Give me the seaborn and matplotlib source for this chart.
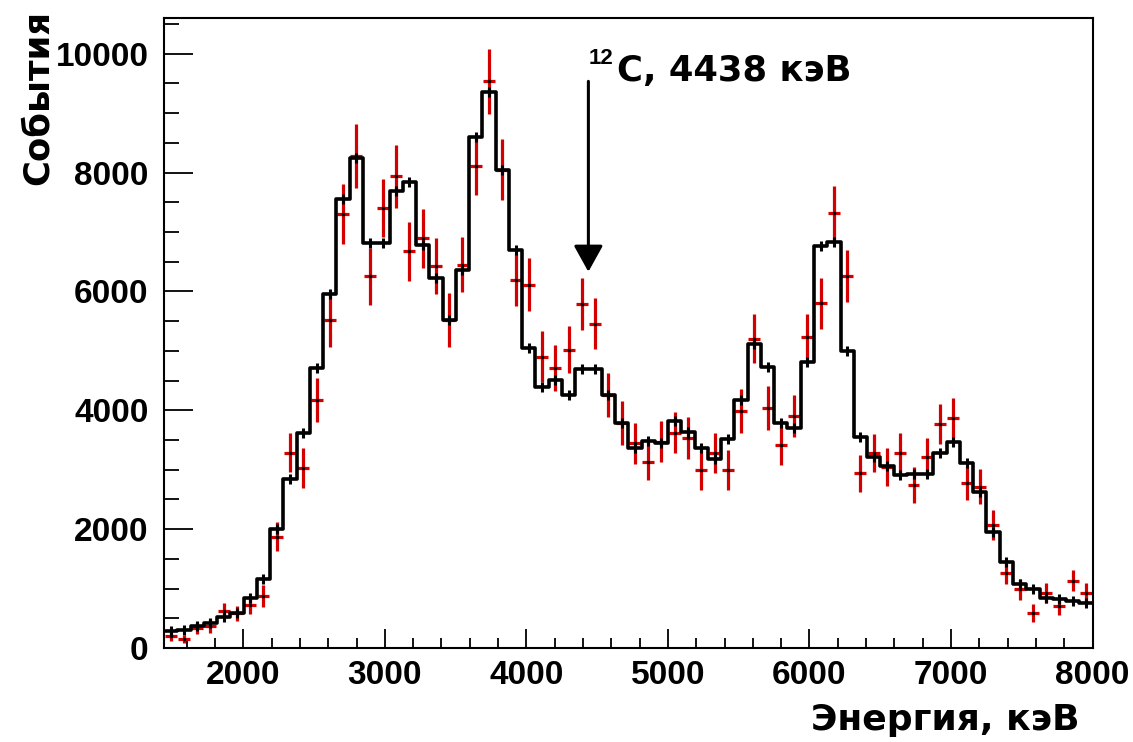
import numpy as np
import pandas as pd
import matplotlib
matplotlib.use("Agg")
import matplotlib.pyplot as plt
import seaborn as sns

# ---- data ----
E_MIN, E_MAX, N_BINS = 1440.0, 8000.0, 70

hist_counts = [290, 310, 370, 415, 517, 584, 836, 1156, 2003, 2845,
               3614, 4709, 5960, 7559, 8244, 6813, 6813, 7682, 7834, 6785,
               6224, 5522, 6352, 8597, 9349, 8036, 6700, 5045, 4399, 4512,
               4259, 4692, 4692, 4259, 3793, 3362, 3490, 3457, 3827, 3642,
               3362, 3177, 3513, 4175, 5118, 4725, 3793, 3698, 4820, 6768,
               6823, 5005, 3557, 3221, 3064, 2912, 2929, 2929, 3288, 3474,
               3109, 2632, 1958, 1453, 1077, 988, 837, 830, 796, 752]

data_counts = [202, 146, 331, 370, 629, 584, 724, 875, 1874, 3288,
               3035, 4170, 5522, 7306, 8283, 6251, 7402, 7935, 6672, 6897,
               6431, 5522, 6448, 8103, 9534, 8047, 6195, 6111, 4904, 4709,
               5017, 5791, 5455, 4259, 3783, 3446, 3137, 3474, 3625, 3530,
               2997, 3278, 2997, 3987, 5205, 4035, 3418, 3906, 5241, 5803,
               7318, 6263, 2941, 3278, 3042, 3288, 2744, 3210, 3771, 3867,
               2773, 2716, 2071, 1268, 988, 584, 921, 707, 1133, 931]

data_errors = [80, 70, 100, 110, 130, 130, 150, 180, 245, 330,
               335, 365, 450, 505, 535, 475, 490, 525, 490, 495,
               470, 450, 465, 477, 547, 513, 435, 449, 435, 393,
               398, 435, 429, 365, 365, 342, 314, 351, 351, 354,
               337, 337, 331, 365, 407, 365, 337, 356, 379, 429,
               463, 435, 309, 323, 315, 337, 297, 323, 342, 345,
               286, 300, 253, 188, 180, 149, 170, 150, 177, 170]

x_ticks = [2000, 3000, 4000, 5000, 6000, 7000, 8000]
y_ticks = [0, 2000, 4000, 6000, 8000, 10000]

line_energy = 4438
x_label = "Энергия, кэВ"
y_label = "События"

# ---- plot ----
sns.set_theme(style="ticks")
plt.rcParams['font.family'] = ['Liberation Sans', 'DejaVu Sans']
plt.rcParams['font.weight'] = 'bold'
for key in ['text.color', 'axes.labelcolor', 'xtick.color', 'ytick.color',
            'xtick.labelcolor', 'ytick.labelcolor', 'axes.edgecolor']:
    plt.rcParams[key] = 'black'

edges = np.linspace(E_MIN, E_MAX, N_BINS + 1)
centers = 0.5 * (edges[:-1] + edges[1:])
bw = edges[1] - edges[0]

df = pd.DataFrame({"energy": centers, "counts": hist_counts})

fig = plt.figure(figsize=(11.33, 7.42), dpi=100)
ax = fig.add_axes([164 / 1133, 1 - 648 / 742, (1092.6 - 164) / 1133, (648 - 18) / 742])

red = "#D40000"
ax.errorbar(centers, data_counts, yerr=data_errors, xerr=bw * 0.45,
            fmt='none', ecolor=red, elinewidth=2.3, capsize=0, zorder=2)

sns.histplot(data=df, x="energy", weights="counts", bins=N_BINS,
             binrange=(E_MIN, E_MAX), element="step",
             fill=False, color="black", linewidth=2.6, ax=ax)
ax.plot(centers, hist_counts, linestyle='none', marker='|', markersize=7,
        markeredgewidth=2.2, color='black', zorder=4)
ax.plot(centers, data_counts, linestyle='none', marker='o', markersize=1.5,
        color='black', zorder=4)

ax.set_xlim(E_MIN, E_MAX)
ax.set_ylim(0, 10600)

ax.set_xticks(x_ticks)
ax.set_xticklabels([str(v) for v in x_ticks])
ax.set_yticks(y_ticks)
ax.set_yticklabels([str(v) for v in y_ticks])
ax.set_xticks(np.arange(1600, 8001, 200), minor=True)
ax.set_yticks(np.arange(0, 10601, 500), minor=True)

ax.tick_params(axis='both', which='both', direction='in', color='black',
               top=False, right=False)
ax.tick_params(axis='x', which='major', length=14, width=1.3, labelsize=24, pad=9)
ax.tick_params(axis='x', which='minor', length=7, width=1.3)
ax.tick_params(axis='y', which='major', length=21, width=1.3, labelsize=24, pad=11)
ax.tick_params(axis='y', which='minor', length=10.5, width=1.3)
for lab in ax.get_xticklabels() + ax.get_yticklabels():
    lab.set_fontweight('bold')
    lab.set_color('black')

for s in ax.spines.values():
    s.set_linewidth(1.5)
    s.set_color('black')

lab_font = ['DejaVu Sans']
ax.set_xlabel(x_label, fontsize=26, fontweight='bold', loc='right',
              family=lab_font, color='black')
ax.xaxis.set_label_coords(0.9855, -0.087)
ax.set_ylabel(y_label, fontsize=25.5, fontweight='bold', loc='top',
              family=lab_font, color='black')
ax.yaxis.set_label_coords(-0.118, 1.013)

# arrow and annotation
ax.annotate("", xy=(line_energy, 6330), xytext=(line_energy, 9534),
            arrowprops=dict(arrowstyle="-|>,head_length=1.35,head_width=0.75",
                            color='black', lw=2.2, shrinkA=0, shrinkB=0))
ax.text(line_energy, 9830, "12", fontsize=16, fontweight='bold',
        ha='left', va='baseline', color='black')
ax.text(4640, 9534, "C, 4438 кэВ", fontsize=25.5, fontweight='bold',
        ha='left', va='baseline', family=lab_font, color='black')

fig.savefig("out.png", dpi=100)
